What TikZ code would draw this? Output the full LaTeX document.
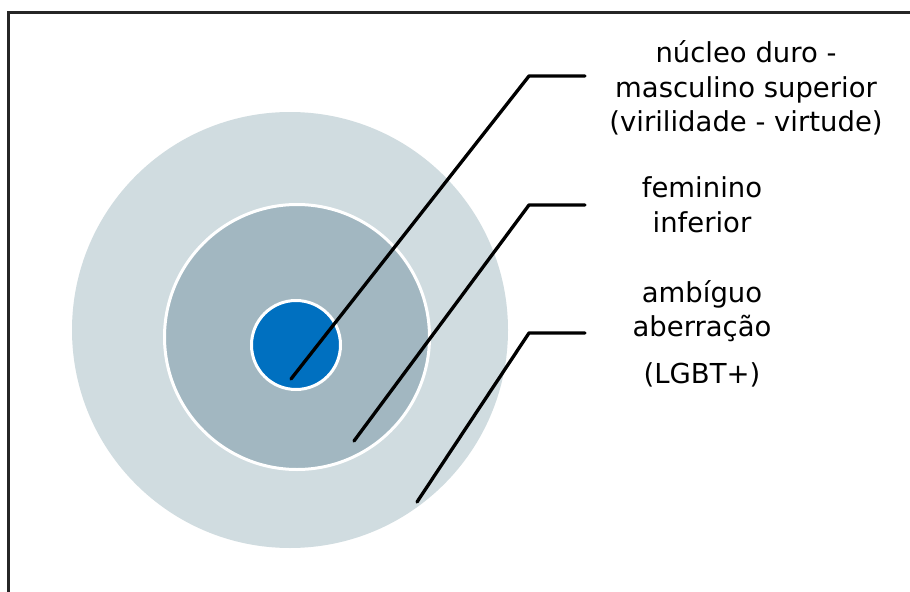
\documentclass[tikz,border=0pt]{standalone}
\usepackage{fontspec}
\setmainfont{DejaVu Sans}
\definecolor{ringout}{HTML}{D0DCE0}
\definecolor{ringmid}{HTML}{A2B7C1}
\definecolor{ringcore}{HTML}{0070C0}
\begin{document}
\begin{tikzpicture}[x=0.75pt,y=-0.75pt,
  ring/.style={draw=white,line width=2.25pt},
  leader/.style={draw=black,line width=2.5pt,line cap=round,line join=round},
  lbl/.style={anchor=base,inner sep=0pt,font=\fontsize{20.6}{26}\selectfont}]
\useasboundingbox (0,0) rectangle (910,592);
\fill[white] (0,0) rectangle (910,592);
% frame
\draw[line width=1.6pt,black!85] (8.5,600) -- (8.5,12.5) -- (920,12.5);
% circles
\fill[ringout] (290,330) circle (218);
\path[ring,fill=ringmid] (297,337) circle (132.5);
\path[ring,fill=ringcore] (296,345) circle (44.5);
% leader coordinates
\coordinate (p1) at (291,379);
\coordinate (e1) at (529,76);
\coordinate (t1) at (585,76);
\coordinate (p2) at (354,441);
\coordinate (e2) at (529,205);
\coordinate (t2) at (585,205);
\coordinate (p3) at (417,502);
\coordinate (e3) at (529,333);
\coordinate (t3) at (585,333);
\draw[leader] (p1) -- (e1) -- (t1);
\draw[leader] (p2) -- (e2) -- (t2);
\draw[leader] (p3) -- (e3) -- (t3);
% labels
\node[lbl] (l1a) at (746,63) {núcleo duro -};
\node[lbl] (l1b) at (746,98) {masculino superior};
\node[lbl] (l1c) at (746,131) {(virilidade - virtude)};
\node[lbl] (l2a) at (702,197) {feminino};
\node[lbl] (l2b) at (702,232) {inferior};
\node[lbl] (l3a) at (702,302) {ambíguo};
\node[lbl] (l3b) at (702,336) {aberração};
\node[lbl] (l3c) at (702,383) {(LGBT+)};
\end{tikzpicture}
\end{document}
